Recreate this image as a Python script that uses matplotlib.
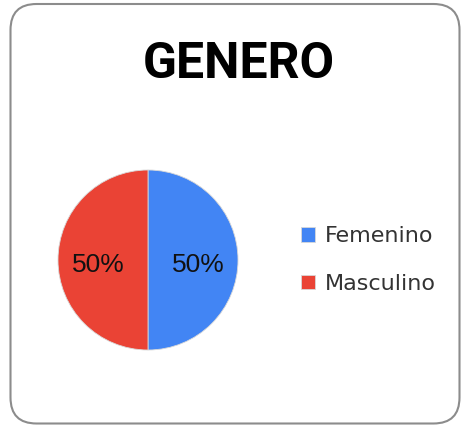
import matplotlib.pyplot as plt
from matplotlib.patches import FancyBboxPatch

# datos
categorias = ['Femenino', 'Masculino']
valores = [50, 50]
colores = ['#4285F4', '#EA4335']
titulo = 'GENERO'

fig = plt.figure(figsize=(4.61, 4.25), dpi=100)

# marco redondeado
marco = FancyBboxPatch((10.5, 1.5), 449, 419.5,
                       boxstyle='round,pad=0,rounding_size=26',
                       transform=None, facecolor='none',
                       edgecolor='#8c8c8c', linewidth=1.5)
fig.add_artist(marco)

# titulo
fig.text(238.5 / 461, 1 - 78 / 425, titulo, ha='center', va='baseline',
         fontsize=36, fontweight='bold',
         family=['Roboto', 'DejaVu Sans'], color='black')

# pastel
ax = fig.add_axes([58 / 461, 75 / 425, 180 / 461, 180 / 425])
wedges, textos, autotextos = ax.pie(
    valores, colors=colores, startangle=90, counterclock=False,
    autopct='%1.0f%%', pctdistance=0.555, radius=1,
    wedgeprops=dict(edgecolor='#d8d8d8', linewidth=0.6),
    textprops=dict(fontsize=19, family=['Liberation Sans', 'DejaVu Sans'],
                   color='#111111'))
for t in autotextos:
    x, y = t.get_position()
    t.set_position((x, y - 0.06))
ax.set_xlim(-1, 1)
ax.set_ylim(-1, 1)

# leyenda
ax.legend(wedges, categorias, loc='center left',
          bbox_to_anchor=(301 / 461, 1 - 260 / 425),
          bbox_transform=fig.transFigure, frameon=False,
          borderpad=0, borderaxespad=0,
          handlelength=0.64, handleheight=0.64, handletextpad=0.45,
          labelspacing=1.25,
          prop=dict(size=16, family=['DejaVu Sans']),
          labelcolor='#333333')

fig.savefig('out.png', dpi=100)
